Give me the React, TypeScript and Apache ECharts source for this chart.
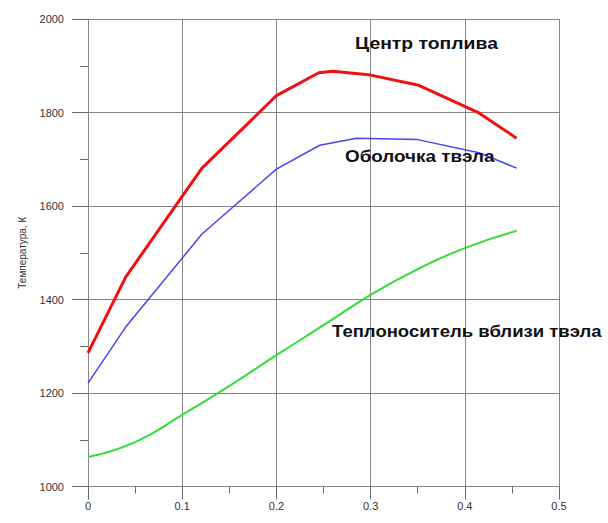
import React, { useEffect, useRef } from "react";
import * as echarts from "echarts";

const fuelX = [0, 0.04, 0.121, 0.2, 0.245, 0.26, 0.3, 0.35, 0.415, 0.455];
const fuelT = [1286, 1448, 1681, 1836, 1885, 1888, 1880, 1859, 1799, 1745];

const cladX = [0, 0.04, 0.121, 0.2, 0.246, 0.285, 0.35, 0.415, 0.455];
const cladT = [1221, 1341, 1540, 1679, 1730, 1745, 1742, 1714, 1681];

const coolX = [0, 0.05, 0.1, 0.15, 0.2, 0.25, 0.3, 0.35, 0.4, 0.455];
const coolT = [1063, 1095, 1153, 1215, 1281, 1345, 1410, 1465, 1510, 1547];

const labels = ["Центр топлива", "Оболочка твэла", "Теплоноситель вблизи твэла"];
const yAxisName = "Температура, К";

const zip = (xs: number[], ys: number[]) => xs.map((x, i) => [x, ys[i]]);

export default function App() {
  const ref = useRef<HTMLDivElement>(null);
  useEffect(() => {
    const chart = echarts.init(ref.current!, null, { renderer: "svg" });
    const gridColor = "#858585";
    const font = "Liberation Sans, Arial, sans-serif";
    const labelStyle = { color: "#333", fontSize: 11, fontFamily: font };
    const textFont = { fontFamily: font, fontSize: 17, fontWeight: "bold" as const, fill: "#111" };
    chart.setOption({
      animation: false,
      backgroundColor: "#fff",
      grid: { left: 88, right: 49, top: 19, bottom: 36.5, containLabel: false },
      xAxis: {
        type: "value",
        min: 0,
        max: 0.5,
        interval: 0.1,
        axisLine: { show: true, onZero: false, lineStyle: { color: gridColor, width: 1 } },
        axisTick: { show: true, inside: false, length: 13, lineStyle: { color: "#6a6a6a", width: 1 } },
        minorTick: { show: true, splitNumber: 2, length: 7, lineStyle: { color: "#6a6a6a", width: 1 } },
        splitLine: { show: true, lineStyle: { color: gridColor, width: 1 } },
        axisLabel: { ...labelStyle, margin: 14, formatter: (v: number) => String(v) },
      },
      yAxis: {
        type: "value",
        min: 1000,
        max: 2000,
        interval: 200,
        name: yAxisName,
        nameLocation: "middle",
        nameGap: 61,
        nameRotate: 90,
        nameTextStyle: { color: "#333", fontSize: 10, fontFamily: font },
        axisLine: { show: true, onZero: false, lineStyle: { color: gridColor, width: 1 } },
        axisTick: { show: true, inside: false, length: 16, lineStyle: { color: "#6a6a6a", width: 1 } },
        minorTick: { show: true, splitNumber: 2, length: 8, lineStyle: { color: "#6a6a6a", width: 1 } },
        splitLine: { show: true, lineStyle: { color: gridColor, width: 1 } },
        axisLabel: { ...labelStyle, margin: 24, formatter: (v: number) => String(v) },
      },
      series: [
        {
          name: labels[0],
          type: "line",
          data: zip(fuelX, fuelT),
          showSymbol: false,
          lineStyle: { color: "#ee1111", width: 3 },
          z: 5,
        },
        {
          name: labels[1],
          type: "line",
          data: zip(cladX, cladT),
          showSymbol: false,
          lineStyle: { color: "#4646ee", width: 1.5 },
          z: 4,
        },
        {
          name: labels[2],
          type: "line",
          data: zip(coolX, coolT),
          showSymbol: false,
          smooth: true,
          lineStyle: { color: "#33dd33", width: 2 },
          z: 3,
        },
      ],
      graphic: [
        { type: "text", x: 355, y: 35, scaleX: 1.14, z: 10, style: { ...textFont, text: labels[0] } },
        { type: "text", x: 345, y: 148, scaleX: 1.11, z: 10, style: { ...textFont, text: labels[1] } },
        { type: "text", x: 332, y: 323, scaleX: 1.09, z: 10, style: { ...textFont, text: labels[2] } },
      ],
    });
    return () => chart.dispose();
  }, []);
  return (
    <div
      ref={ref}
      style={{ position: "fixed", left: 0, top: 0, width: 608, height: 523 }}
    />
  );
}
